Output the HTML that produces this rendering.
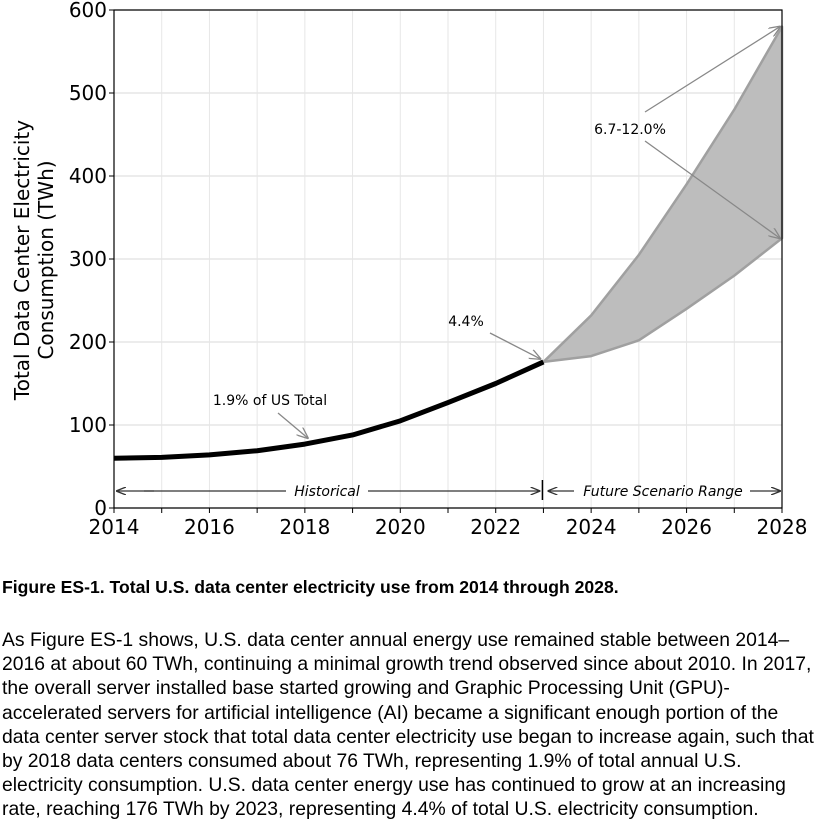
<!DOCTYPE html>
<html><head><meta charset="utf-8"><style>
body{margin:0;background:#fff;width:823px;height:826px;overflow:hidden;font-family:"Liberation Sans",Arial,sans-serif}
svg{position:absolute;left:0;top:0}
#cap{position:absolute;left:2px;top:577px;font-weight:bold;font-size:17.6px;color:#000;white-space:nowrap}
#para{position:absolute;left:2px;top:628px;font-size:19.35px;line-height:24.2px;color:#000;width:823px;white-space:nowrap}
</style></head><body>
<svg id="chart" width="823" height="560" font-family="DejaVu Sans, sans-serif"></svg>
<div id="cap">Figure ES-1. Total U.S. data center electricity use from 2014 through 2028.</div>
<div id="para">As Figure ES-1 shows, U.S. data center annual energy use remained stable between 2014–<br>2016 at about 60 TWh, continuing a minimal growth trend observed since about 2010. In 2017,<br>the overall server installed base started growing and Graphic Processing Unit (GPU)-<br>accelerated servers for artificial intelligence (AI) became a significant enough portion of the<br>data center server stock that total data center electricity use began to increase again, such that<br>by 2018 data centers consumed about 76 TWh, representing 1.9% of total annual U.S.<br>electricity consumption. U.S. data center energy use has continued to grow at an increasing<br>rate, reaching 176 TWh by 2023, representing 4.4% of total U.S. electricity consumption.</div>
<script>
const histYears=[2014,2015,2016,2017,2018,2019,2020,2021,2022,2023];
const histValues=[60,61,64,69,77,88,105,127,150,176];
const futYears=[2023,2024,2025,2026,2027,2028];
const futUpper=[176,232,305,390,480,580];
const futLower=[176,183,202,240,280,325];
const xTicks=[2014,2016,2018,2020,2022,2024,2026,2028];
const yTicks=[0,100,200,300,400,500,600];
const svg=document.getElementById('chart');
const NS='http://www.w3.org/2000/svg';
const X0=114,X1=782,Y0=508,Y1=10;
const x=v=>X0+(v-2014)/(2028-2014)*(X1-X0);
const y=v=>Y0-(v/600)*(Y0-Y1);
function mk(t,a,p){const e=document.createElementNS(NS,t);for(const k in a)e.setAttribute(k,a[k]);(p||svg).appendChild(e);return e;}
svg.innerHTML='<defs><marker id="ah" markerWidth="10" markerHeight="8" refX="9" refY="4" orient="auto" markerUnits="userSpaceOnUse"><path d="M0,0 L10,4 L0,8" fill="none" stroke="#333" stroke-width="1.3"/></marker><marker id="ag" markerWidth="12" markerHeight="10" refX="11" refY="5" orient="auto" markerUnits="userSpaceOnUse"><path d="M0,0 L12,5 L0,10" fill="none" stroke="#888" stroke-width="1.3"/></marker></defs>';
for(let yr=2014;yr<=2028;yr++){const g=mk('line',{x1:x(yr),x2:x(yr),y1:Y1,y2:Y0,stroke:'#e6e6e6','stroke-width':1});
}
yTicks.forEach(v=>{const g=mk('line',{x1:X0,x2:X1,y1:y(v),y2:y(v),stroke:'#e6e6e6','stroke-width':1.5});

const t=mk('text',{x:X0-7,y:y(v)+7,'text-anchor':'end','font-size':20});t.textContent=v;

mk('line',{x1:X0-5,x2:X0,y1:y(v),y2:y(v),stroke:'#000'});});
for(let yr=2014;yr<=2028;yr++)mk('line',{x1:x(yr),x2:x(yr),y1:Y0,y2:Y0+5,stroke:'#000'});
xTicks.forEach(v=>{const t=mk('text',{x:x(v),y:Y0+26,'text-anchor':'middle','font-size':20});t.textContent=v;
});
let d='M'+futYears.map((yr,i)=>x(yr)+','+y(futUpper[i])).join(' L');
for(let i=futYears.length-1;i>=0;i--)d+=' L'+x(futYears[i])+','+y(futLower[i]);
const band=mk('path',{d:d+'Z',fill:'#bdbdbd',stroke:'#a0a0a0','stroke-width':2.5,'stroke-linejoin':'round'});

const hl=mk('polyline',{points:histYears.map((yr,i)=>x(yr)+','+y(histValues[i])).join(' '),fill:'none',stroke:'#000','stroke-width':5,'stroke-linejoin':'round'});

mk('rect',{x:X0,y:Y1,width:X1-X0,height:Y0-Y1,fill:'none',stroke:'#000','stroke-width':1.2});
mk('line',{x1:278,y1:413,x2:x(2018)+3,y2:y(77)-6,stroke:'#888','stroke-width':1.3,'marker-end':'url(#ag)'});
let t=mk('text',{x:270,y:405,'text-anchor':'middle','font-size':14});t.textContent='1.9% of US Total';

mk('line',{x1:490,y1:333,x2:x(2023)-3,y2:y(176)-3,stroke:'#888','stroke-width':1.3,'marker-end':'url(#ag)'});
t=mk('text',{x:466,y:326,'text-anchor':'middle','font-size':14});t.textContent='4.4%';

mk('line',{x1:645,y1:112,x2:x(2028)-2,y2:y(580),stroke:'#888','stroke-width':1.3,'marker-end':'url(#ag)'});
mk('line',{x1:645,y1:141,x2:x(2028)-2,y2:y(325),stroke:'#888','stroke-width':1.3,'marker-end':'url(#ag)'});
t=mk('text',{x:630,y:134,'text-anchor':'middle','font-size':14});t.textContent='6.7-12.0%';

const ay=491;
mk('line',{x1:x(2014)+40,y1:ay,x2:x(2014)+3,y2:ay,stroke:'#333','stroke-width':1.3,'marker-end':'url(#ah)'});
mk('line',{x1:x(2014)+30,y1:ay,x2:286,y2:ay,stroke:'#333','stroke-width':1.3});
mk('line',{x1:368,y1:ay,x2:x(2023)-4,y2:ay,stroke:'#333','stroke-width':1.3,'marker-end':'url(#ah)'});
t=mk('text',{x:327,y:ay+5,'text-anchor':'middle','font-size':14,'font-style':'italic'});t.textContent='Historical';

mk('line',{x1:x(2023)-1,x2:x(2023)-1,y1:480,y2:500,stroke:'#000','stroke-width':1.5});
mk('line',{x1:574,y1:ay,x2:x(2023)+5,y2:ay,stroke:'#333','stroke-width':1.3,'marker-end':'url(#ah)'});
mk('line',{x1:750,y1:ay,x2:x(2028)-2,y2:ay,stroke:'#333','stroke-width':1.3,'marker-end':'url(#ah)'});
t=mk('text',{x:663,y:ay+5,'text-anchor':'middle','font-size':14,'font-style':'italic'});t.textContent='Future Scenario Range';

t=mk('text',{transform:'translate(29,260) rotate(-90)','text-anchor':'middle','font-size':20});

const a=mk('tspan',{x:0,dy:0},t);a.textContent='Total Data Center Electricity';
const b=mk('tspan',{x:0,dy:24},t);b.textContent='Consumption (TWh)';
</script>
</body></html>
